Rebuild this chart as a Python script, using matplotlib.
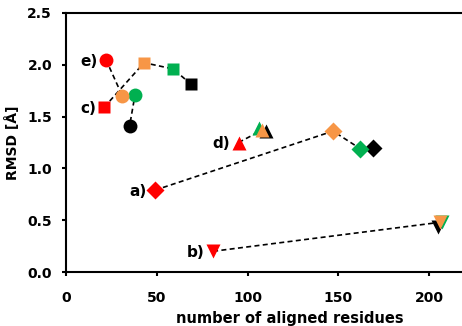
import matplotlib.pyplot as plt

plt.rcParams['font.family'] = 'DejaVu Sans'
plt.rcParams['font.weight'] = 'bold'

# colours: one per point in each series (red, orange, green, black)
COLORS = ['#FF0000', '#F79646', '#00B050', '#000000']

# a) diamonds
a_x = [49, 147, 162, 169]
a_y = [0.79, 1.36, 1.19, 1.20]
# b) inverted triangles
b_x = [81, 206, 207, 205]
b_y = [0.20, 0.48, 0.48, 0.43]
# c) squares
c_x = [21, 43, 59, 69]
c_y = [1.59, 2.02, 1.96, 1.81]
# d) triangles
d_x = [95, 108, 106.5, 110]
d_y = [1.25, 1.37, 1.39, 1.36]
# e) circles
e_x = [22, 31, 38, 35]
e_y = [2.05, 1.70, 1.71, 1.41]

series = [
    ('a)', a_x, a_y, 'D', 9),
    ('b)', b_x, b_y, 'v', 10),
    ('c)', c_x, c_y, 's', 9),
    ('d)', d_x, d_y, '^', 10.5),
    ('e)', e_x, e_y, 'o', 10),
]

fig = plt.figure(figsize=(4.62, 3.26), dpi=100)
ax = fig.add_axes([66/462, 54/326, 1 - 66/462, 259/326])

for label, xs, ys, mk, ms in series:
    ax.plot(xs, ys, color='black', lw=1.2, ls=(0, (3, 2)), zorder=1)
    # draw black first so orange ends up on top
    for i in [3, 2, 1, 0]:
        ax.plot(xs[i], ys[i], marker=mk, ms=ms, color=COLORS[i],
                mec='none', ls='none', zorder=2)
    ax.annotate(label, (xs[0], ys[0]), xytext=(-6, -1), textcoords='offset points',
                ha='right', va='center', fontsize=11, fontweight='bold')

ax.set_xlim(0, 218)
ax.set_ylim(0, 2.5)
ax.set_xticks([0, 50, 100, 150, 200])
ax.set_yticks([0.0, 0.5, 1.0, 1.5, 2.0, 2.5])
ax.set_yticklabels(['0.0', '0.5', '1.0', '1.5', '2.0', '2.5'])
ax.spines['right'].set_visible(False)
for s in ['left', 'bottom', 'top']:
    ax.spines[s].set_linewidth(1.5)
ax.tick_params(axis='both', direction='out', length=3, width=1.5, labelsize=10)
ax.tick_params(axis='x', top=False, pad=11)
ax.tick_params(axis='y', pad=7)
for t in ax.get_xticklabels() + ax.get_yticklabels():
    t.set_fontweight('bold')

ax.set_xlabel('number of aligned residues', fontsize=10.5, fontweight='bold')
ax.xaxis.set_label_coords((290 - 66) / 396, -0.178)
ax.xaxis.label.set_va('center')
ax.set_ylabel('RMSD [Å]', fontsize=10, fontweight='bold')
ax.yaxis.set_label_coords(-0.135, 0.5)
ax.yaxis.label.set_va('center')

fig.savefig('out.png', dpi=100)
